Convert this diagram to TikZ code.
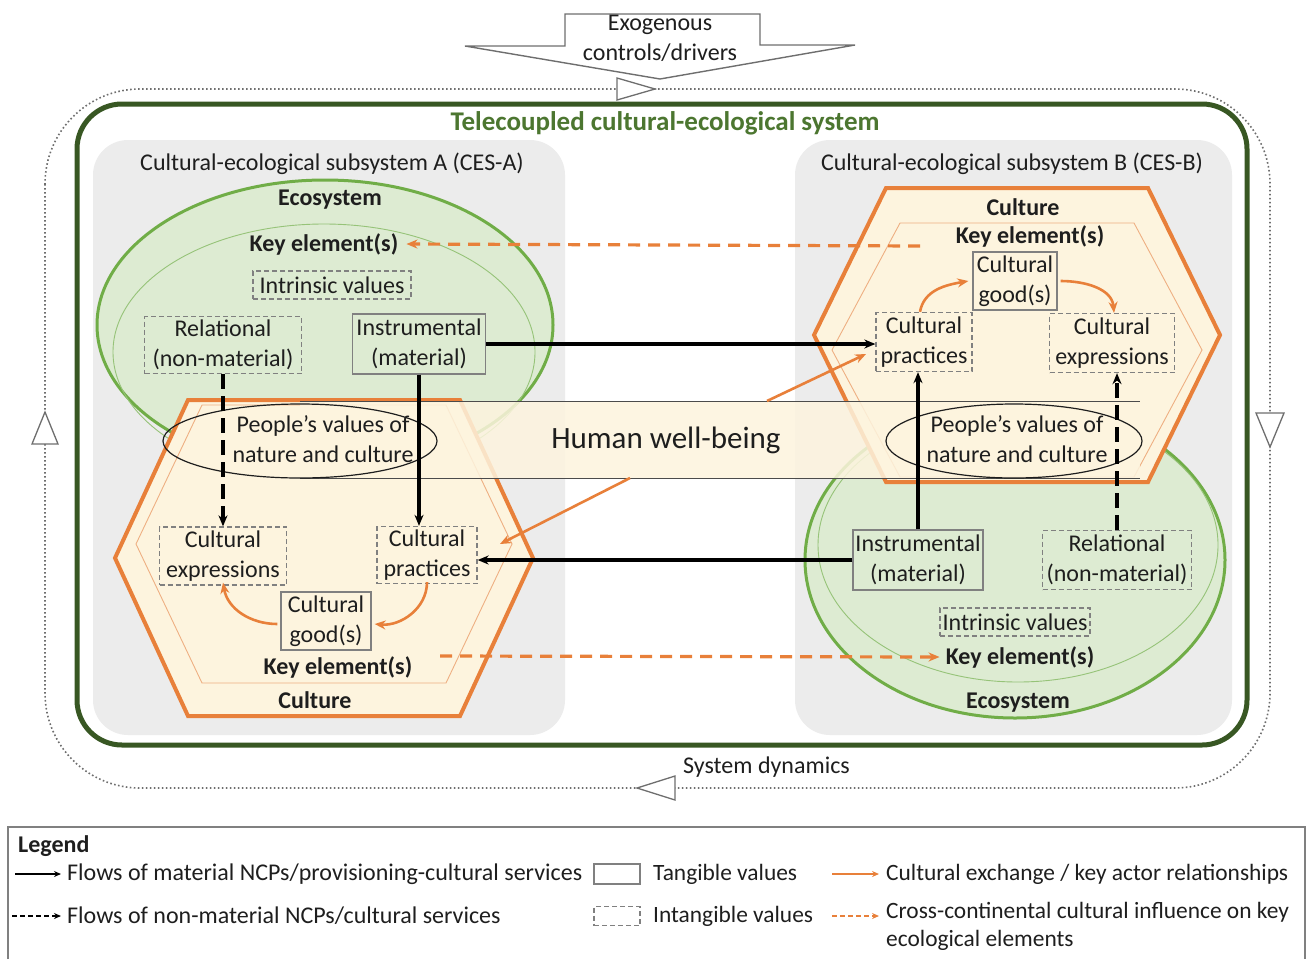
\documentclass[tikz,border=0pt]{standalone}
\usepackage{fontspec}
\setmainfont{Carlito}
\usetikzlibrary{arrows.meta,calc,shapes.geometric}
\definecolor{framegreen}{RGB}{56,87,35}
\definecolor{titlegreen}{RGB}{76,118,48}
\definecolor{ecoline}{RGB}{112,173,71}
\definecolor{ecofill}{RGB}{221,235,210}
\definecolor{ecoinner}{RGB}{150,195,120}
\definecolor{culline}{RGB}{232,128,58}
\definecolor{culfill}{RGB}{253,244,222}
\definecolor{culinner}{RGB}{238,175,130}
\definecolor{panelgray}{RGB}{236,236,236}
\definecolor{boxgray}{RGB}{128,128,128}
\definecolor{loopgray}{RGB}{110,110,110}
\definecolor{inkgray}{RGB}{30,30,30}
\tikzset{
  txt/.style={font=\fontsize{24}{30}\selectfont, text=inkgray, align=center, inner sep=0pt},
  ttl/.style={txt, font=\fontsize{24}{30}\selectfont\bfseries},
  lgtxt/.style={txt, font=\fontsize{24}{28}\selectfont, anchor=west, align=left},
  lgtxtr/.style={lgtxt, font=\fontsize{23.4}{28}\selectfont},
  valbox/.style={txt, draw=boxgray, line width=1.3pt},
  tang/.style={valbox},
  intang/.style={valbox, dash pattern=on 5pt off 3pt},
  mflow/.style={draw=black, line width=3.2pt, -{Stealth[length=11pt,width=9pt]}},
  nmflow/.style={mflow, dash pattern=on 15pt off 7pt},
  cex/.style={draw=culline, line width=2.6pt, -{Stealth[length=11pt,width=9pt]}},
  cinfl/.style={cex, line width=3.2pt, dash pattern=on 12pt off 8pt},
  looptri/.style={draw=loopgray, fill=white, line width=1.3pt},
  pvring/.style={ellipse, draw=inkgray, line width=1.2pt, inner sep=0pt},
}
\begin{document}
\begin{tikzpicture}[x=1pt,y=-1pt]
\useasboundingbox (0,0) rectangle (1313,959);

% system dynamics loop
\draw[loopgray, line width=1.6pt, dash pattern=on 1.6pt off 2.4pt, rounded corners=95pt] (45,89) rectangle (1270,788);
\draw[looptri] (617,78) -- (655,89) -- (617,100) -- cycle;
\draw[looptri] (45,412) -- (58,444) -- (32,444) -- cycle;
\draw[looptri] (1256,413) -- (1284,413) -- (1270,447) -- cycle;
\draw[looptri] (637,788) -- (675,776) -- (675,800) -- cycle;
\node[txt, anchor=west] (sysdyn) at (683,767) {System dynamics};

% exogenous drivers block arrow
\draw[draw=loopgray, fill=white, line width=1.4pt, line join=miter]
  (565,14) -- (760,14) -- (760,45) -- (855,45) -- (660,79) -- (465,46) -- (565,46) -- cycle;
\node[txt] (exo) at (660,38) {Exogenous\\controls/drivers};

% telecoupled system frame
\draw[framegreen, line width=5pt, fill=white, rounded corners=45pt] (77,104) rectangle (1247,745);
\node[ttl, text=titlegreen, font=\fontsize{27}{30}\selectfont\bfseries] (tccs) at (665,123) {Telecoupled cultural-ecological system};

% subsystem panels
\fill[panelgray, rounded corners=35pt] (93,140) rectangle (565,735);
\fill[panelgray, rounded corners=35pt] (795,140) rectangle (1232,735);
\node[txt] (cesA) at (332,164) {Cultural-ecological subsystem A (CES-A)};
\node[txt] (cesB) at (1012,164) {Cultural-ecological subsystem B (CES-B)};

% ecosystem A
\draw[ecoline, fill=ecofill, line width=3pt] (325,325) ellipse [x radius=228pt, y radius=145pt];
\draw[ecoinner, line width=0.9pt] (324,352) ellipse [x radius=211pt, y radius=128pt];
% ecosystem B
\draw[ecoline, fill=ecofill, line width=3pt] (1015,560) ellipse [x radius=210pt, y radius=158pt];
\draw[ecoinner, line width=0.9pt] (1018,545) ellipse [x radius=200pt, y radius=137pt];

% culture A
\draw[culline, fill=culfill, line width=4pt, line join=miter]
  (115,558) -- (188,400) -- (460,400) -- (533,558) -- (460,716) -- (188,716) -- cycle;
\draw[culinner, line width=0.9pt]
  (136,544) -- (202,405) -- (446,405) -- (512,544) -- (446,683) -- (202,683) -- cycle;
% culture B
\draw[culline, fill=culfill, line width=4pt, line join=miter]
  (814,335) -- (886,188) -- (1148,188) -- (1220,335) -- (1148,482) -- (886,482) -- cycle;
\draw[culinner, line width=0.9pt]
  (832,350) -- (900,223) -- (1134,223) -- (1202,350) -- (1134,477) -- (900,477) -- cycle;

% human well-being band
\node[fill=culfill, fill opacity=0.85, minimum width=840, minimum height=77, inner sep=0pt] (hwb) at (720,440) {};
\draw[inkgray!80, line width=1.2pt] (hwb.north west) -- (hwb.north east) (hwb.south west) -- (hwb.south east);
\node[txt, font=\fontsize{31}{36}\selectfont] (hwbt) at (666,440) {Human well-being};
\node[pvring, minimum width=274, minimum height=74] (pvA) at (300,441) {};
\node[pvring, minimum width=256, minimum height=74] (pvB) at (1014,441) {};
\node[txt] (pvtA) at (323,439) {People’s values of\\nature and culture};
\node[txt] (pvtB) at (1017,439) {People’s values of\\nature and culture};

% titles
\node[ttl] (ecoA) at (330,200) {Ecosystem};
\node[ttl] (keyA) at (324,244) {Key element(s)};
\node[ttl] (culA) at (315,700) {Culture};
\node[ttl] (keyCA) at (338,667) {Key element(s)};
\node[ttl] (culB) at (1023,207) {Culture};
\node[ttl] (keyCB) at (1030,236) {Key element(s)};
\node[ttl] (ecoB) at (1018,703) {Ecosystem};
\node[ttl] (keyB) at (1020,657) {Key element(s)};

% values in ecosystem A
\node[intang, minimum width=158, minimum height=28] (intrA) at (332,285) {Intrinsic values};
\node[intang, minimum width=157, minimum height=57] (relA) at (223,345) {Relational\\(non-material)};
\node[tang, fill=ecofill, minimum width=133, minimum height=60] (insA) at (419,344) {Instrumental\\(material)};
% values in culture A
\node[intang, minimum width=127, minimum height=58] (expA) at (223,556) {Cultural\\expressions};
\node[intang, minimum width=100, minimum height=57] (pracA) at (427,555) {Cultural\\practices};
\node[tang, minimum width=90, minimum height=58] (goodA) at (326,621) {Cultural\\good(s)};
% values in culture B
\node[tang, minimum width=84, minimum height=58] (goodB) at (1015,281) {Cultural\\good(s)};
\node[intang, minimum width=96, minimum height=59] (pracB) at (924,342) {Cultural\\practices};
\node[intang, minimum width=125, minimum height=59] (expB) at (1112,343) {Cultural\\expressions};
% values in ecosystem B
\node[tang, fill=ecofill, minimum width=130, minimum height=60] (insB) at (918,560) {Instrumental\\(material)};
\node[intang, minimum width=149, minimum height=59] (relB) at (1117,560) {Relational\\(non-material)};
\node[intang, minimum width=150, minimum height=28] (intrB) at (1015,622) {Intrinsic values};

% flows of NCPs
\draw[mflow] (insA.east) -- (insA.east -| pracB.west);
\draw[mflow] (insA.south) -- (insA.south |- pracA.north);
\draw[nmflow] (relA.south) -- (expA.north);
\draw[mflow] (insB.west) -- (insB.west -| pracA.east);
\draw[mflow] (insB.north) -- (insB.north |- pracB.south);
\draw[nmflow] (relB.north) -- (relB.north |- expB.south);

% cultural exchange
\coordinate (hwbTop) at (767,401);
\coordinate (pracBin) at (866,354);
\coordinate (hwbBot) at (630,478);
\coordinate (pracAin) at (500,544);
\draw[cex] (hwbTop) -- (pracBin);
\draw[cex] (hwbBot) -- (pracAin);
\draw[cex] ([xshift=-4pt]pracB.north) to[out=80,in=190] ([xshift=-4pt]goodB.west);
\draw[cex] ([xshift=3pt]goodB.east) to[out=0,in=95] ([xshift=2pt]expB.north);
\draw[cex] ([yshift=2pt]pracA.south) to[out=-90,in=-5] ([xshift=3pt,yshift=-3pt]goodA.east);
\draw[cex] ([xshift=-3pt,yshift=-3pt]goodA.west) to[out=180,in=-80] ([yshift=3pt]expA.south);

% cross-continental influence
\coordinate (inflBs) at (920,246);
\coordinate (inflAs) at (440,656);
\draw[cinfl] (inflBs) -- ([xshift=8pt]keyA.east);
\draw[cinfl] (inflAs) -- ([xshift=-6pt]keyB.west);

% legend
\draw[draw=boxgray, line width=2pt] (8,959) -- (8,827) -- (1305,827) -- (1305,959);
\node[ttl, anchor=west] (lg) at (18,846) {Legend};
\coordinate (l1s) at (15,874); \coordinate (l1e) at (61,874);
\coordinate (l2s) at (12,916); \coordinate (l2e) at (61,916);
\coordinate (l3s) at (832,874); \coordinate (l3e) at (879,874);
\coordinate (l4s) at (832,916); \coordinate (l4e) at (879,916);
\draw[mflow, line width=1.6pt, -{Stealth[length=7pt,width=6pt]}] (l1s) -- (l1e);
\draw[mflow, line width=1.6pt, dash pattern=on 5pt off 3pt, -{Stealth[length=7pt,width=6pt]}] (l2s) -- (l2e);
\draw[cex, line width=1.6pt, -{Stealth[length=7pt,width=6pt]}] (l3s) -- (l3e);
\draw[cex, line width=1.6pt, dash pattern=on 5pt off 3pt, -{Stealth[length=7pt,width=6pt]}] (l4s) -- (l4e);
\node[lgtxt] (lt1) at (67,874) {Flows of material NCPs/provisioning-cultural services};
\node[lgtxt] (lt2) at (67,916) {Flows of non-material NCPs/cultural services};
\node[tang, minimum width=46, minimum height=20] (lbt) at (617,874) {};
\node[intang, minimum width=46, minimum height=19] (lbi) at (617,916) {};
\node[lgtxtr] (lt3) at (653,874) {Tangible values};
\node[lgtxtr] (lt4) at (653,916) {Intangible values};
\node[lgtxtr] (lt5) at (886,874) {Cultural exchange / key actor relationships};
\node[lgtxtr, anchor=north west] (lt6) at (886,902) {Cross-continental cultural influence on key\\ecological elements};
\end{tikzpicture}
\end{document}
